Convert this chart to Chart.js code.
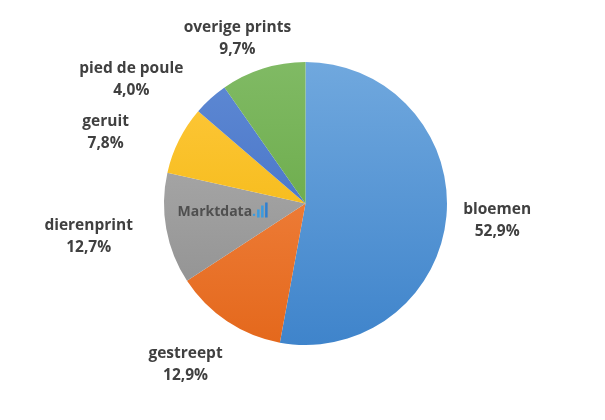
<!DOCTYPE html>
<html>
<head>
<meta charset="utf-8">
<script src="https://cdn.jsdelivr.net/npm/chart.js@4.4.0/dist/chart.umd.min.js"></script>
<style>
  html, body { margin: 0; padding: 0; background: #fff; }
  #wrap { width: 605px; height: 420px; }
</style>
</head>
<body>
<div id="wrap"><canvas id="myChart"></canvas></div>
<script>
// categories and shares (%)
const labels = ['bloemen', 'gestreept', 'dierenprint', 'geruit', 'pied de poule', 'overige prints'];
const shares = [52.9, 12.9, 12.7, 7.8, 4.0, 9.7];
// light (top) / dark (bottom) colour of each slice
const lightColors = ['#70a8de', '#f58d4e', '#b3b3b3', '#ffc93f', '#5f8ad4', '#80ba64'];
const darkColors = ['#3f84cb', '#e4681c', '#8c8c8c', '#efb200', '#3a67c0', '#5fa23a'];

// label placement: distance (x outer radius) and angle nudge in degrees
const labelPlace = [[1.36, 0], [1.42, 3], [1.55, 1.6], [1.50, -7], [1.51, -12.5], [1.26, -5]];

function sliceFill(ctx) {
  const chart = ctx.chart;
  const area = chart.chartArea;
  if (!area) return lightColors[ctx.dataIndex];
  const g = chart.ctx.createLinearGradient(0, area.top, 0, area.bottom);
  g.addColorStop(0, lightColors[ctx.dataIndex]);
  g.addColorStop(1, darkColors[ctx.dataIndex]);
  return g;
}

const outsideLabels = {
  id: 'outsideLabels',
  afterDatasetsDraw(chart) {
    const c = chart.ctx;
    const meta = chart.getDatasetMeta(0);
    c.save();
    c.font = 'bold 15.5px "Open Sans"';
    c.fillStyle = '#404040';
    c.textAlign = 'center';
    c.textBaseline = 'middle';
    meta.data.forEach((arc, i) => {
      const p = arc.getProps(['x', 'y', 'startAngle', 'endAngle', 'outerRadius'], true);
      const mid = (p.startAngle + p.endAngle) / 2 + labelPlace[i][1] * Math.PI / 180;
      const d = p.outerRadius * labelPlace[i][0];
      const x = p.x + Math.cos(mid) * d;
      const y = p.y + Math.sin(mid) * d;
      c.fillText(labels[i], x, y - 11);
      c.fillText(shares[i].toFixed(1).replace('.', ',') + '%', x, y + 11);
    });

    // watermark
    const wx = meta.data[0].x - 128, wy = meta.data[0].y + 9;
    c.textAlign = 'left';
    c.font = 'bold 14px "Open Sans"';
    c.fillStyle = '#4f4f4f';
    c.fillText('Marktdata', wx, wy);
    let w = c.measureText('Marktdata').width;
    c.fillStyle = '#3a9be0';
    c.fillText('.', wx + w, wy);
    w += c.measureText('.').width + 1;
    c.fillRect(wx + w, wy - 3, 2.5, 8);
    c.fillRect(wx + w + 4, wy - 7, 2.5, 12);
    c.fillStyle = '#2f7fd0';
    c.fillRect(wx + w + 8, wy - 10, 2.5, 15);
    c.restore();
  }
};

new Chart(document.getElementById('myChart').getContext('2d'), {
  type: 'pie',
  data: {
    labels: labels,
    datasets: [{
      data: shares,
      backgroundColor: sliceFill,
      borderWidth: 0
    }]
  },
  options: {
    responsive: true,
    maintainAspectRatio: false,
    animation: false,
    layout: { padding: { top: 62, bottom: 75, left: 6, right: 0 } },
    plugins: {
      legend: { display: false },
      tooltip: { enabled: false }
    }
  },
  plugins: [outsideLabels]
});
</script>
</body>
</html>
